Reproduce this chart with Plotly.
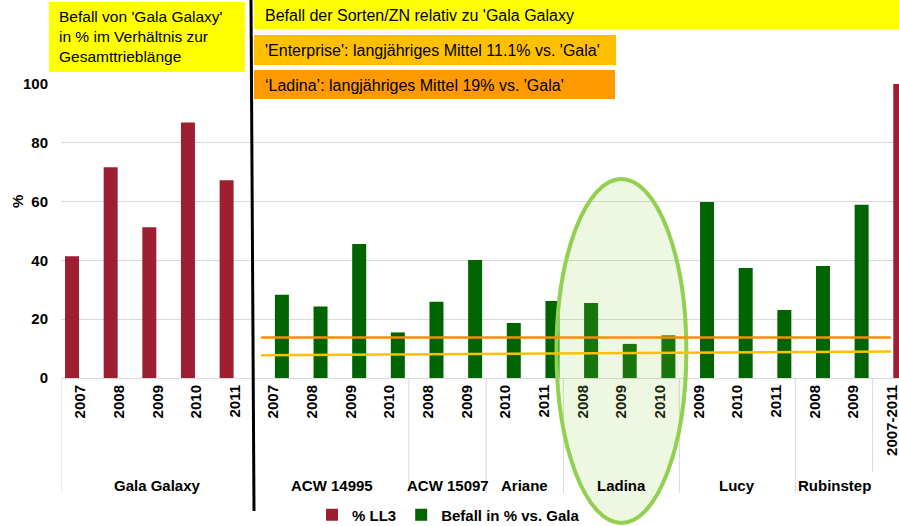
import plotly.graph_objects as go

# ---------------- data ----------------
groups = ["Gala Galaxy"] * 5 + ["ACW 14995"] * 4 + ["ACW 15097"] * 2 + ["Ariane"] * 2 + \
         ["Ladina"] * 3 + ["Lucy"] * 3 + ["Rubinstep"] * 2 + [""]
years = ["2007", "2008", "2009", "2010", "2011",
         "2007", "2008", "2009", "2010",
         "2008", "2009",
         "2010", "2011",
         "2008", "2009", "2010",
         "2009", "2010", "2011",
         "2008", "2009",
         "2007-2011"]
ll3 = [41.4, 71.7, 51.3, 86.9, 67.3] + [None] * 17
befall = [None] * 5 + [28.3, 24.3, 45.6, 15.5,
                       25.9, 40.1,
                       18.7, 26.2,
                       25.5, 11.6, 14.5,
                       59.9, 37.4, 23.1,
                       38.1, 58.9,
                       100]
# reference lines (drawn as shapes): level at left end, level at right end
line_orange = [13.8, 13.8]
line_yellow = [7.7, 9.0]

RED = "#9E1F32"
GREEN = "#006400"

W, H = 899, 526
ML, MR, MT, MB = 61, 0, 84, 148
PW = W - ML - MR
PH = H - MT - MB
CAT_PX = 38.65


def px_x(px):
    return (px - ML) / PW


def px_y(py):
    return (H - MB - py) / PH


xs = list(range(len(years)))
green_colors = [GREEN] * (len(years) - 1) + [RED]

fig = go.Figure()
fig.add_trace(go.Bar(x=xs, y=ll3, name="% LL3", marker=dict(color=RED, line=dict(width=0))))
fig.add_trace(go.Bar(x=xs, y=befall, name="Befall in % vs. Gala",
                     marker=dict(color=green_colors, line=dict(width=0))))

FONT = "Liberation Sans, Arial, sans-serif"

shapes = []
annotations = []

# group spans
spans = []
start = 0
for i in range(1, len(groups) + 1):
    if i == len(groups) or groups[i] != groups[start]:
        spans.append((groups[start], start, i - 1))
        start = i

# dividers and group labels
for name, s, e in spans:
    if s != 5:  # at s == 5 the black separator line is drawn instead
        y_end = px_y(472) if name == "" else px_y(493)
        shapes.append(dict(type="line", xref="x", yref="paper", x0=s - 0.5, x1=s - 0.5,
                           y0=0, y1=y_end, line=dict(color="#D9D9D9", width=1), layer="above"))
    if name:
        annotations.append(dict(x=(s + e) / 2, y=px_y(485), xref="x", yref="paper",
                                text=name, showarrow=False, xanchor="center", yanchor="middle",
                                font=dict(family=FONT, size=15, color="black", weight="bold")))

# reference lines
x_left = (261 - ML) / CAT_PX - 0.5
x_right = (891 - ML) / CAT_PX - 0.5

# Ladina ellipse
lad = [s for n, s, e in spans if n == "Ladina"][0]
lad_c = lad + 1
shapes.append(dict(type="circle", xref="x", yref="paper", x0=lad_c - 1.68, x1=lad_c + 1.68,
                   y0=px_y(523), y1=px_y(179), fillcolor="rgba(146,208,80,0.17)",
                   line=dict(color="#92D050", width=4), layer="above"))

shapes.append(dict(type="line", xref="x", yref="y", x0=x_left, x1=x_right,
                   y0=line_orange[0], y1=line_orange[1], line=dict(color="#FF8C00", width=2.5), layer="above"))
shapes.append(dict(type="line", xref="x", yref="y", x0=x_left, x1=x_right,
                   y0=line_yellow[0], y1=line_yellow[1], line=dict(color="#FFC000", width=2.5), layer="above"))

# text boxes
boxes = [
    (49, 2, 245, 72, "#FFFF00"),
    (254, 0, 899, 29, "#FFFF00"),
    (254, 35, 616, 65, "#FFC000"),
    (254, 70, 615, 99, "#FF9900"),
]
for x0, y0, x1, y1, c in boxes:
    shapes.append(dict(type="rect", xref="paper", yref="paper", x0=px_x(x0), x1=px_x(x1),
                       y0=px_y(y1), y1=px_y(y0), fillcolor=c, line=dict(width=0), layer="above"))

# black separator
shapes.append(dict(type="line", xref="paper", yref="paper", x0=px_x(251), x1=px_x(254),
                   y0=px_y(0), y1=px_y(511), line=dict(color="black", width=3), layer="above"))

txt_font = dict(family=FONT, size=16, color="black")
annotations += [
    dict(x=px_x(57), y=px_y(37), xref="paper", yref="paper", showarrow=False,
         xanchor="left", yanchor="middle", align="left",
         text="Befall von 'Gala Galaxy'<br>in % im Verhältnis zur<br>Gesamttrieblänge",
         font=dict(family=FONT, size=15.5, color="black")),
    dict(x=px_x(263), y=px_y(15), xref="paper", yref="paper", showarrow=False,
         xanchor="left", yanchor="middle", text="Befall der Sorten/ZN relativ zu 'Gala Galaxy",
         font=txt_font),
    dict(x=px_x(263), y=px_y(50), xref="paper", yref="paper", showarrow=False,
         xanchor="left", yanchor="middle", text="'Enterprise': langjähriges Mittel 11.1% vs. 'Gala'",
         font=txt_font),
    dict(x=px_x(263), y=px_y(85), xref="paper", yref="paper", showarrow=False,
         xanchor="left", yanchor="middle", text="‘Ladina’: langjähriges Mittel 19% vs. 'Gala'",
         font=txt_font),
    dict(x=px_x(17), y=px_y(202), xref="paper", yref="paper", showarrow=False,
         xanchor="center", yanchor="middle", text="%", textangle=-90,
         font=dict(family=FONT, size=15, color="black", weight="bold")),
]

fig.update_layout(
    width=W, height=H,
    margin=dict(l=ML, r=MR, t=MT, b=MB, pad=0, autoexpand=False),
    paper_bgcolor="white", plot_bgcolor="white",
    barmode="group", bargap=0.14, bargroupgap=0.158,
    font=dict(family=FONT, color="black"),
    xaxis=dict(range=[-0.5, -0.5 + PW / CAT_PX], tickmode="array", tickvals=xs, ticktext=years,
               tickangle=-90, showgrid=False, zeroline=False, showline=True, linecolor="#D9D9D9",
               linewidth=1, ticks="", automargin=False, ticklabeloverflow="allow",
               tickfont=dict(family=FONT, size=15, color="black", weight="bold")),
    yaxis=dict(range=[0, 100], tickvals=[0, 20, 40, 60, 80, 100], showgrid=True, gridcolor="#D9D9D9",
               gridwidth=1, zeroline=False, showline=False, ticks="", ticklabelstandoff=12,
               automargin=False,
               tickfont=dict(family=FONT, size=15, color="black", weight="bold")),
    legend=dict(orientation="h", x=px_x(312), y=px_y(515), xanchor="left", yanchor="middle",
                font=dict(family=FONT, size=15, color="black", weight="bold"),
                bgcolor="rgba(0,0,0,0)", itemwidth=30),
    shapes=shapes, annotations=annotations,
)

fig.write_html("out.html", config={"displayModeBar": False},
               post_script="document.body.style.margin='0';document.body.style.overflow='hidden';")
